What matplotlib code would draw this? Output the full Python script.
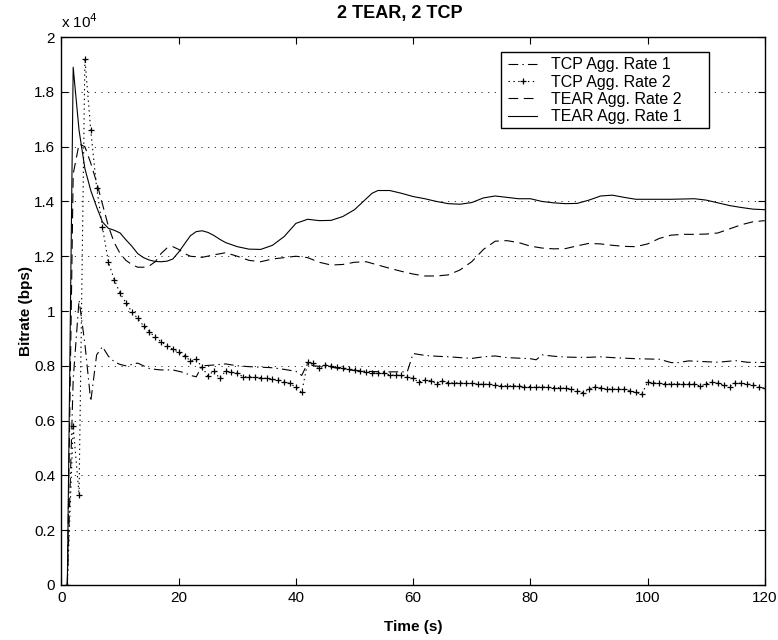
import numpy as np
import matplotlib.pyplot as plt
from matplotlib.patches import Rectangle

plt.rcParams['font.family'] = ['Liberation Sans', 'DejaVu Sans']
plt.rcParams['lines.scale_dashes'] = False

# bitrates in units of 10^4 bps
tear1_t = [1, 2, 3, 4, 5, 6, 7, 8, 9, 10, 11, 12, 13, 14, 15, 16, 17, 18, 19, 20,
           21, 22, 23, 24, 25, 26, 27, 28, 30, 32, 34, 36, 38, 40, 42, 44, 46, 48, 50,
           52, 53, 54, 56, 58, 60, 62, 64, 66, 68, 70, 72, 74, 76, 78, 80, 82, 84, 86,
           88, 90, 92, 94, 96, 98, 100, 104, 108, 110, 112, 114, 116, 118, 120]
tear1 = [0, 1.89, 1.66, 1.52, 1.44, 1.38, 1.325, 1.302, 1.295, 1.285, 1.26, 1.237,
         1.21, 1.195, 1.186, 1.181, 1.18, 1.182, 1.19, 1.215, 1.245, 1.275, 1.29, 1.293,
         1.287, 1.276, 1.262, 1.25, 1.235, 1.226, 1.225, 1.24, 1.272, 1.32, 1.335, 1.33,
         1.331, 1.345, 1.37, 1.41, 1.43, 1.44, 1.44, 1.43, 1.418, 1.41, 1.40, 1.392,
         1.39, 1.396, 1.413, 1.42, 1.415, 1.41, 1.41, 1.40, 1.395, 1.392, 1.393, 1.405,
         1.42, 1.423, 1.415, 1.408, 1.408, 1.408, 1.41, 1.405, 1.395, 1.385, 1.378,
         1.372, 1.37]

tear2_t = [1, 2, 3, 4, 5, 6, 7, 8, 9, 10, 11, 12, 13, 14, 15, 16, 17, 18, 19, 20, 21,
           22, 24, 26, 28, 30, 32, 34, 36, 38, 40, 42, 44, 46, 48, 50, 52, 54, 56, 58,
           60, 62, 64, 66, 68, 70, 72, 74, 76, 78, 80, 82, 84, 86, 88, 90, 92, 94, 96,
           98, 100, 102, 104, 106, 108, 110, 112, 114, 116, 118, 120]
tear2 = [0, 1.50, 1.61, 1.60, 1.54, 1.47, 1.39, 1.31, 1.25, 1.21, 1.185, 1.17, 1.16,
         1.16, 1.165, 1.18, 1.21, 1.23, 1.235, 1.225, 1.21, 1.20, 1.196, 1.205, 1.213,
         1.20, 1.185, 1.18, 1.19, 1.195, 1.20, 1.195, 1.178, 1.168, 1.17, 1.178, 1.18,
         1.168, 1.156, 1.145, 1.135, 1.128, 1.128, 1.132, 1.15, 1.18, 1.225, 1.255,
         1.257, 1.25, 1.237, 1.23, 1.227, 1.228, 1.238, 1.247, 1.245, 1.24, 1.236, 1.235,
         1.245, 1.265, 1.277, 1.28, 1.28, 1.281, 1.285, 1.30, 1.315, 1.326, 1.33]

tcp1_t = [1, 2, 3, 4, 5, 6, 7, 8, 9, 10, 11, 12, 13, 14, 15, 16, 17, 18, 19, 20, 21,
          22, 23, 24, 26, 28, 30, 32, 34, 36, 38, 40, 41, 42, 43, 46, 49, 52, 55, 59,
          60, 62, 64, 66, 68, 70, 72, 74, 76, 78, 80, 81, 82, 84, 86, 88, 90, 92, 94,
          96, 98, 100, 102, 104, 105, 107, 110, 112, 114, 115, 117, 120]
tcp1 = [0, 0.75, 1.04, 0.88, 0.67, 0.84, 0.87, 0.835, 0.815, 0.805, 0.80, 0.805, 0.81,
        0.80, 0.79, 0.787, 0.785, 0.785, 0.785, 0.78, 0.775, 0.765, 0.76, 0.80, 0.803,
        0.807, 0.80, 0.797, 0.795, 0.793, 0.787, 0.78, 0.765, 0.81, 0.80, 0.795, 0.785,
        0.78, 0.778, 0.778, 0.845, 0.838, 0.835, 0.833, 0.83, 0.827, 0.833, 0.836, 0.83,
        0.828, 0.826, 0.822, 0.84, 0.835, 0.832, 0.831, 0.831, 0.833, 0.83, 0.828,
        0.826, 0.825, 0.824, 0.812, 0.811, 0.818, 0.815, 0.813, 0.817, 0.819, 0.813,
        0.812]

tcp2_t = np.arange(1, 121)
tcp2 = [0, 0.58, 0.33, 1.92, 1.66, 1.45, 1.305, 1.18, 1.115, 1.065,
        1.03, 0.998, 0.973, 0.946, 0.925, 0.904, 0.888, 0.873, 0.861, 0.849,
        0.837, 0.818, 0.824, 0.794, 0.763, 0.782, 0.754, 0.781, 0.776, 0.773,
        0.76, 0.76, 0.758, 0.757, 0.754, 0.751, 0.748, 0.74, 0.736, 0.721,
        0.703, 0.813, 0.809, 0.791, 0.803, 0.799, 0.794, 0.793, 0.787, 0.785,
        0.781, 0.779, 0.775, 0.775, 0.775, 0.766, 0.766, 0.765, 0.76, 0.754,
        0.74, 0.748, 0.746, 0.734, 0.746, 0.738, 0.738, 0.738, 0.736, 0.736,
        0.733, 0.733, 0.733, 0.73, 0.727, 0.727, 0.727, 0.727, 0.724, 0.724,
        0.721, 0.724, 0.721, 0.72, 0.72, 0.718, 0.715, 0.709, 0.702, 0.714,
        0.724, 0.72, 0.715, 0.715, 0.715, 0.715, 0.709, 0.703, 0.696, 0.74,
        0.738, 0.736, 0.734, 0.734, 0.734, 0.734, 0.734, 0.733, 0.726, 0.734,
        0.74, 0.736, 0.73, 0.724, 0.738, 0.736, 0.734, 0.73, 0.721, 0.718]

labels = ['TCP Agg. Rate 1', 'TCP Agg. Rate 2', 'TEAR Agg. Rate 2', 'TEAR Agg. Rate 1']

fig = plt.figure(figsize=(7.78, 6.4), dpi=100)
ax = fig.add_axes([0.079, 0.086, 0.904, 0.856])

lw = 0.8
l1, = ax.plot(tcp1_t, tcp1, color='k', lw=lw, dashes=(7, 3, 1, 3))
l2, = ax.plot(tcp2_t, tcp2, color='k', lw=lw, dashes=(1, 2.5), marker='+',
              markersize=5, markeredgewidth=0.9)
l3, = ax.plot(tear2_t, tear2, color='k', lw=lw, dashes=(7, 4))
l4, = ax.plot(tear1_t, tear1, color='k', lw=lw, linestyle='-')

ax.set_xlim(0, 120)
ax.set_ylim(0, 2)
ax.set_xticks(np.arange(0, 121, 20))
ax.set_yticks(np.arange(0, 2.01, 0.2))
ax.set_yticklabels(['%g' % round(v, 1) for v in np.arange(0, 2.01, 0.2)])
ax.tick_params(direction='in', top=True, right=True, length=5, width=0.8,
               labelsize=11, pad=4.5)
ax.yaxis.grid(True, color='k', lw=0.6, dashes=(0.8, 4))
for s in ax.spines.values():
    s.set_linewidth(1.0)

ax.text(0.0, 1.012, r'x 10$^4$', transform=ax.transAxes, fontsize=11,
        ha='left', va='bottom')
ax.set_title('2 TEAR, 2 TCP', fontsize=13, fontweight='bold', pad=14, x=0.481)
ax.set_xlabel('Time (s)', fontsize=11, fontweight='bold', labelpad=11)
ax.set_ylabel('Bitrate (bps)', fontsize=11, fontweight='bold', labelpad=0.5)

# legend box (matlab style: wide frame around the entries)
ax.add_patch(Rectangle((0.6243, 0.834), 0.2961, 0.1392, transform=ax.transAxes,
                       facecolor='white', edgecolor='k', lw=1.0, zorder=4))
leg = ax.legend([l1, l2, l3, l4], labels,
                loc='upper left', bbox_to_anchor=(0.6355, 0.9635), borderaxespad=0,
                fontsize=11.5, numpoints=1, handlelength=1.8, handletextpad=0.85,
                labelspacing=0.15, borderpad=0, frameon=False)
leg.set_zorder(5)

plt.savefig('out.png', dpi=100)
